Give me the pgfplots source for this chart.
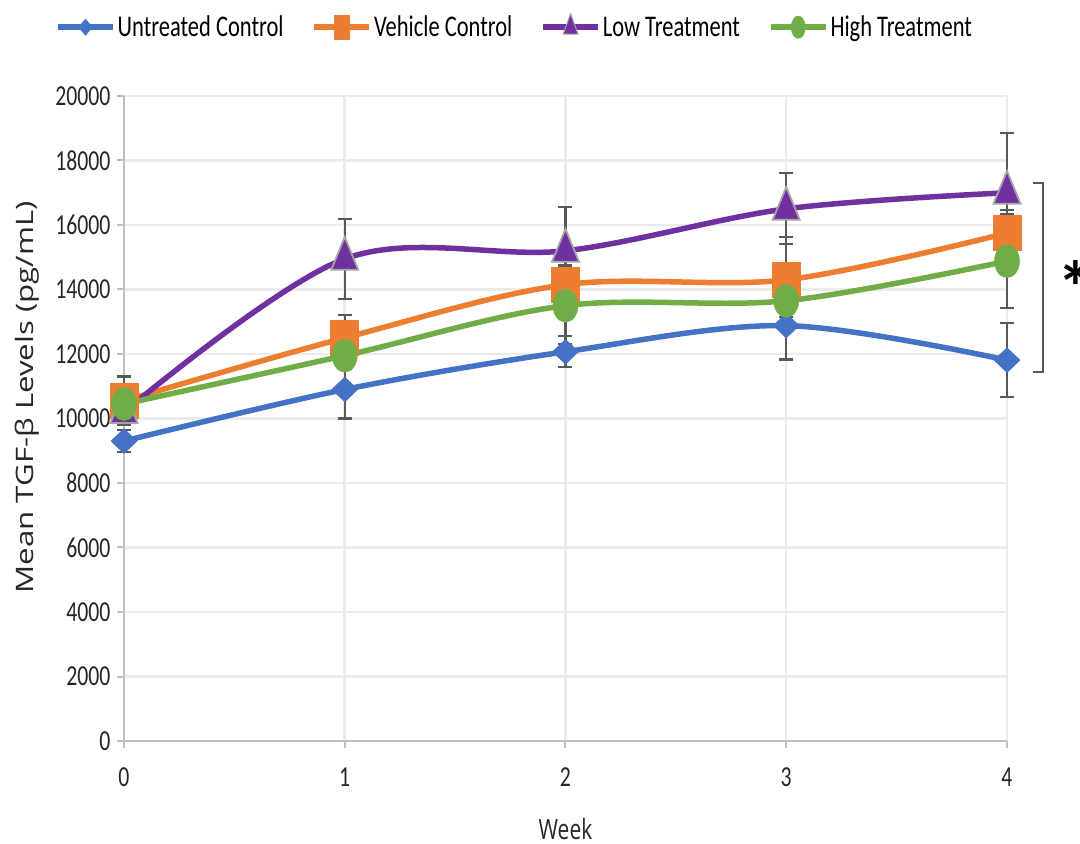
\documentclass[border=0pt]{standalone}
\usepackage{fontspec}
\setmainfont{Carlito}
\newfontfamily\condfont[FakeStretch=0.75]{Carlito}
\newfontfamily\labfont[FakeStretch=0.75]{Open Sans}
\newfontfamily\ylabfont[FakeStretch=1.3]{Open Sans}
\usepackage{pgfplots}
\usepackage{pgfplotstable}
\pgfplotsset{compat=1.18}
\definecolor{cUn}{HTML}{4472C4}
\definecolor{cVe}{HTML}{ED7D31}
\definecolor{cLo}{HTML}{7030A0}
\definecolor{cHi}{HTML}{70AD47}
\definecolor{triborder}{HTML}{A5A5A5}
\definecolor{errc}{HTML}{595959}
\definecolor{gridc}{HTML}{EBEBEB}
\definecolor{axisc}{HTML}{BFBFBF}
\definecolor{tickc}{HTML}{262626}

\pgfplotstableread{
x y e
0 9300 340
1 10900 900
2 12070 480
3 12880 1050
4 11810 1150
}\untreated
\pgfplotstableread{
x y e
0 10550 750
1 12500 700
2 14150 600
3 14300 1330
4 15750 720
}\vehicle
\pgfplotstableread{
x y e
0 10200 300
1 14950 1240
2 15200 1350
3 16500 1100
4 17000 1850
}\low
\pgfplotstableread{
x y e
0 10450 300
1 11950 400
2 13500 1200
3 13650 500
4 14880 1450
}\high

\pgfplotsset{
  myerr/.style={
    error bars/.cd, y dir=both, y explicit,
    error bar style={errc, line width=2.2pt, solid},
    error mark options={errc, rotate=90, mark size=7pt, line width=2.2pt},
  },
}

\begin{document}
\begin{tikzpicture}
\useasboundingbox (-124pt,-103pt) rectangle (956pt,741pt);
\begin{axis}[
  scale only axis, width=883pt, height=645pt,
  xmin=0, xmax=4, ymin=0, ymax=20000,
  xtick={0,1,2,3,4}, ytick={0,2000,...,20000},
  scaled y ticks=false,
  /pgf/number format/1000 sep={},
  /pgf/number format/assume math mode=true,
  ticklabel style={font=\condfont\fontsize{29}{34}\selectfont, text=tickc},
  xticklabel style={yshift=-16pt},
  yticklabel style={xshift=-3pt},
  axis x line=bottom, axis y line=left,
  axis line style={-, axisc, line width=2.5pt},
  tick align=outside, major tick length=7pt,
  tick style={axisc, line width=2pt},
  grid=major, major grid style={gridc, line width=2.5pt},
  xlabel={Week}, ylabel={Mean TGF-β Levels (pg/mL)},
  xlabel style={font=\labfont\fontsize{28}{34}\selectfont, text=tickc, at={(axis description cs:0.5,-0.1364)}, anchor=center},
  ylabel style={font=\ylabfont\fontsize{24}{30}\selectfont, text=tickc, at={(axis description cs:-0.1099,0.5326)}, anchor=center},
  clip=false,
  legend columns=4,
  legend style={at={(axis description cs:-0.0781,1.107)}, anchor=west, draw=none, fill=none, inner sep=0pt,
    font=\condfont\fontsize{30}{36}\selectfont, text=black,
    nodes={inner sep=2pt},
    /tikz/every even column/.append style={column sep=26pt}},
  legend image code/.code={\draw[mark repeat=2,mark phase=2,#1] plot coordinates {(0pt,0pt) (27.5pt,0pt) (55pt,0pt)};},
]
\addlegendimage{cUn, line width=5.5pt, mark=diamond*, mark size=9pt, mark options={solid, line width=0.5pt, yscale=0.9, fill=cUn, draw=cUn}}
\addlegendentry{Untreated Control}
\addlegendimage{cVe, line width=5.5pt, mark=square*, mark size=7.5pt, mark options={solid, line width=0.5pt, yscale=1.6, fill=cVe, draw=cVe}}
\addlegendentry{Vehicle Control}
\addlegendimage{cLo, line width=5.5pt, mark=triangle*, mark size=8.5pt, mark options={solid, line width=1pt, yscale=1.6, fill=cLo, draw=triborder}}
\addlegendentry{Low Treatment}
\addlegendimage{cHi, line width=5.5pt, mark=*, mark size=7pt, mark options={solid, line width=0.5pt, yscale=1.6, fill=cHi, draw=cHi}}
\addlegendentry{High Treatment}

\addplot[forget plot, cUn, line width=5.5pt, smooth, tension=0.55, mark=diamond*, mark size=17.3pt,
  mark options={solid, line width=0.5pt, yscale=0.715, fill=cUn, draw=cUn}, myerr]
  table[x=x, y=y, y error=e] {\untreated};
\addplot[forget plot, cVe, line width=5.5pt, smooth, tension=0.55, mark=square*, mark size=14pt,
  mark options={solid, line width=0.5pt, yscale=1.25, fill=cVe, draw=cVe}, myerr]
  table[x=x, y=y, y error=e] {\vehicle};
\addplot[forget plot, cLo, line width=5.5pt, smooth, tension=0.55, mark=triangle*, mark size=15.6pt,
  mark options={solid, line width=1.8pt, yscale=1.4, fill=cLo, draw=triborder}, myerr]
  table[x=x, y=y, y error=e] {\low};
\addplot[forget plot, cHi, line width=5.5pt, smooth, tension=0.55, mark=*, mark size=12.5pt,
  mark options={solid, line width=0.5pt, yscale=1.32, fill=cHi, draw=cHi}, myerr]
  table[x=x, y=y, y error=e] {\high};

\draw[errc, line width=2pt] (axis cs:4.118,17302) -- (axis cs:4.163,17302) -- (axis cs:4.163,11442) -- (axis cs:4.118,11442);
\node[font=\bfseries\fontsize{74}{74}\selectfont, text=black, inner sep=0pt, yshift=-13pt] at (axis cs:4.312,14480) {*};
\end{axis}
\end{tikzpicture}
\end{document}
